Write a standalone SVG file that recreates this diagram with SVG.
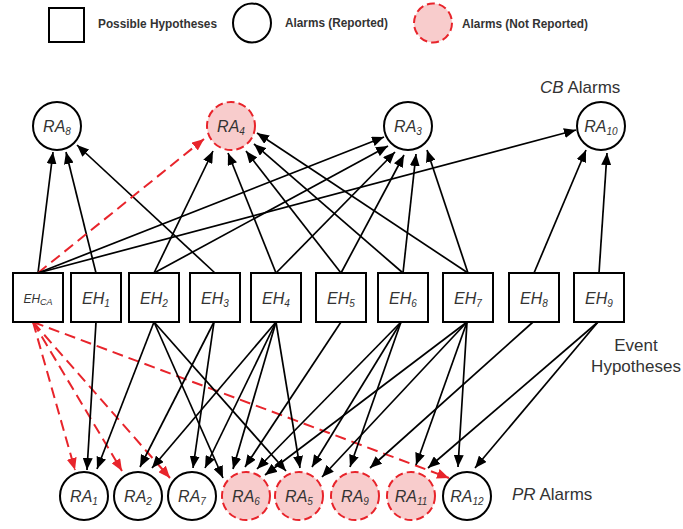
<svg xmlns="http://www.w3.org/2000/svg" width="683" height="529" viewBox="0 0 683 529">
<style>
.box{fill:#fff;stroke:#000;stroke-width:2}
.rep{fill:#fff;stroke:#000;stroke-width:2}
.nrep{fill:#f8cccc;stroke:#e8242b;stroke-width:2;stroke-dasharray:8 4}
.lab{font-family:"Liberation Sans",Arial,sans-serif;font-style:italic;font-size:16px;fill:#333}
.sub{font-size:10px}
.t{font-family:"Liberation Sans",Arial,sans-serif;font-size:17px;fill:#333}
.leg{font-family:"Liberation Sans",Arial,sans-serif;font-size:12px;font-weight:bold;fill:#333}
.e{stroke:#000;stroke-width:1.7;fill:none;marker-end:url(#ab)}
.r{stroke:#e8242b;stroke-width:2;fill:none;stroke-dasharray:11 6;marker-end:url(#ar)}
</style>
<defs>
<marker id="ab" viewBox="0 0 12 10" refX="12" refY="5" markerWidth="12" markerHeight="10" orient="auto" markerUnits="userSpaceOnUse"><path d="M0,0 L12,5 L0,10 z" fill="#000"/></marker>
<marker id="ar" viewBox="0 0 12 10" refX="12" refY="5" markerWidth="12" markerHeight="10" orient="auto" markerUnits="userSpaceOnUse"><path d="M0,0 L12,5 L0,10 z" fill="#e8242b"/></marker>
</defs>

<g id="legend">
<rect x="49" y="8" width="35" height="34" class="box"/>
<text x="98" y="28" class="leg" textLength="119" lengthAdjust="spacingAndGlyphs">Possible Hypotheses</text>
<ellipse cx="252" cy="23" rx="19" ry="19.5" class="rep"/>
<text x="285" y="27" class="leg" textLength="103" lengthAdjust="spacingAndGlyphs">Alarms (Reported)</text>
<ellipse cx="433" cy="23" rx="19" ry="19.5" class="nrep"/>
<text x="462" y="28" class="leg" textLength="126" lengthAdjust="spacingAndGlyphs">Alarms (Not Reported)</text>
</g>

<g id="connectors">
<!-- top -->
<line x1="38" y1="273" x2="53" y2="152" class="e"/>
<line x1="96" y1="273" x2="66" y2="152" class="e"/>
<line x1="215" y1="273" x2="77" y2="145" class="e"/>
<line x1="38" y1="273" x2="204" y2="139" class="r"/>
<line x1="154" y1="273" x2="213" y2="151" class="e"/>
<line x1="276" y1="273" x2="228" y2="153" class="e"/>
<line x1="341" y1="273" x2="246" y2="151" class="e"/>
<line x1="403" y1="273" x2="254" y2="144" class="e"/>
<line x1="468" y1="273" x2="257" y2="133" class="e"/>
<line x1="38" y1="273" x2="384" y2="137" class="e"/>
<line x1="154" y1="273" x2="388" y2="146" class="e"/>
<line x1="276" y1="273" x2="395" y2="152" class="e"/>
<line x1="341" y1="273" x2="404" y2="155" class="e"/>
<line x1="403" y1="273" x2="416" y2="154" class="e"/>
<line x1="468" y1="273" x2="427" y2="150" class="e"/>
<line x1="38" y1="273" x2="576" y2="130" class="e"/>
<line x1="534" y1="273" x2="586" y2="150" class="e"/>
<line x1="599" y1="273" x2="607" y2="153" class="e"/>
<!-- bottom -->
<line x1="33" y1="322" x2="75" y2="470" class="r"/>
<line x1="33" y1="322" x2="122" y2="471" class="r"/>
<line x1="33" y1="322" x2="170" y2="478" class="r"/>
<line x1="33" y1="322" x2="449" y2="478" class="r"/>
<line x1="96" y1="322" x2="87" y2="470" class="e"/>
<line x1="154" y1="322" x2="97" y2="469" class="e"/>
<line x1="154" y1="322" x2="223" y2="478" class="e"/>
<line x1="154" y1="322" x2="286" y2="471" class="e"/>
<line x1="214" y1="322" x2="140" y2="467" class="e"/>
<line x1="214" y1="322" x2="193" y2="468" class="e"/>
<line x1="276" y1="322" x2="152" y2="468" class="e"/>
<line x1="276" y1="322" x2="205" y2="468" class="e"/>
<line x1="276" y1="322" x2="233" y2="469" class="e"/>
<line x1="276" y1="322" x2="300" y2="468" class="e"/>
<line x1="341" y1="322" x2="245" y2="467" class="e"/>
<line x1="401" y1="322" x2="257" y2="469" class="e"/>
<line x1="401" y1="322" x2="312" y2="467" class="e"/>
<line x1="401" y1="322" x2="350" y2="467" class="e"/>
<line x1="467" y1="322" x2="265" y2="475" class="e"/>
<line x1="467" y1="322" x2="322" y2="477" class="e"/>
<line x1="467" y1="322" x2="416" y2="465" class="e"/>
<line x1="467" y1="322" x2="458" y2="467" class="e"/>
<line x1="533" y1="322" x2="370" y2="468" class="e"/>
<line x1="598" y1="322" x2="428" y2="468" class="e"/>
<line x1="598" y1="322" x2="475" y2="468" class="e"/>
</g>

<g id="RA8"><circle cx="57" cy="126" r="24" class="rep"/><text x="57" y="132" class="lab" text-anchor="middle">RA<tspan class="sub" dy="3">8</tspan></text></g>
<g id="RA4"><circle cx="231" cy="126" r="24" class="nrep"/><text x="231" y="132" class="lab" text-anchor="middle">RA<tspan class="sub" dy="3">4</tspan></text></g>
<g id="RA3"><circle cx="408" cy="126" r="24" class="rep"/><text x="408" y="132" class="lab" text-anchor="middle">RA<tspan class="sub" dy="3">3</tspan></text></g>
<g id="RA10"><circle cx="601" cy="126" r="24" class="rep"/><text x="601" y="132" class="lab" text-anchor="middle">RA<tspan class="sub" dy="3">10</tspan></text></g>

<g id="EHCA"><rect x="13" y="273" width="50" height="49" class="box"/><text x="38" y="303" class="lab" style="font-size:12px" text-anchor="middle">EH<tspan style="font-size:9px" dy="2">CA</tspan></text></g>
<g id="EH1"><rect x="71" y="273" width="50" height="49" class="box"/><text x="96" y="304" class="lab" text-anchor="middle">EH<tspan class="sub" dy="3">1</tspan></text></g>
<g id="EH2"><rect x="129" y="273" width="50" height="49" class="box"/><text x="154" y="304" class="lab" text-anchor="middle">EH<tspan class="sub" dy="3">2</tspan></text></g>
<g id="EH3"><rect x="190" y="273" width="50" height="49" class="box"/><text x="215" y="304" class="lab" text-anchor="middle">EH<tspan class="sub" dy="3">3</tspan></text></g>
<g id="EH4"><rect x="251" y="273" width="50" height="49" class="box"/><text x="276" y="304" class="lab" text-anchor="middle">EH<tspan class="sub" dy="3">4</tspan></text></g>
<g id="EH5"><rect x="316" y="273" width="50" height="49" class="box"/><text x="341" y="304" class="lab" text-anchor="middle">EH<tspan class="sub" dy="3">5</tspan></text></g>
<g id="EH6"><rect x="378" y="273" width="50" height="49" class="box"/><text x="403" y="304" class="lab" text-anchor="middle">EH<tspan class="sub" dy="3">6</tspan></text></g>
<g id="EH7"><rect x="443" y="273" width="50" height="49" class="box"/><text x="468" y="304" class="lab" text-anchor="middle">EH<tspan class="sub" dy="3">7</tspan></text></g>
<g id="EH8"><rect x="509" y="273" width="50" height="49" class="box"/><text x="534" y="304" class="lab" text-anchor="middle">EH<tspan class="sub" dy="3">8</tspan></text></g>
<g id="EH9"><rect x="574" y="273" width="50" height="49" class="box"/><text x="599" y="304" class="lab" text-anchor="middle">EH<tspan class="sub" dy="3">9</tspan></text></g>

<g id="RA1"><circle cx="84" cy="496" r="24" class="rep"/><text x="84" y="502" class="lab" text-anchor="middle">RA<tspan class="sub" dy="3">1</tspan></text></g>
<g id="RA2"><circle cx="138" cy="496" r="24" class="rep"/><text x="138" y="502" class="lab" text-anchor="middle">RA<tspan class="sub" dy="3">2</tspan></text></g>
<g id="RA7"><circle cx="192" cy="496" r="24" class="rep"/><text x="192" y="502" class="lab" text-anchor="middle">RA<tspan class="sub" dy="3">7</tspan></text></g>
<g id="RA6"><circle cx="246" cy="496" r="24" class="nrep"/><text x="246" y="502" class="lab" text-anchor="middle">RA<tspan class="sub" dy="3">6</tspan></text></g>
<g id="RA5"><circle cx="299" cy="496" r="24" class="nrep"/><text x="299" y="502" class="lab" text-anchor="middle">RA<tspan class="sub" dy="3">5</tspan></text></g>
<g id="RA9"><circle cx="355" cy="496" r="24" class="nrep"/><text x="355" y="502" class="lab" text-anchor="middle">RA<tspan class="sub" dy="3">9</tspan></text></g>
<g id="RA11"><circle cx="411" cy="496" r="24" class="nrep"/><text x="411" y="502" class="lab" text-anchor="middle">RA<tspan class="sub" dy="3">11</tspan></text></g>
<g id="RA12"><circle cx="467" cy="496" r="24" class="rep"/><text x="467" y="502" class="lab" text-anchor="middle">RA<tspan class="sub" dy="3">12</tspan></text></g>

<g id="labels">
<text x="540" y="93" class="t"><tspan font-style="italic">CB</tspan> Alarms</text>
<text x="636" y="351" class="t" text-anchor="middle">Event</text>
<text x="636" y="372" class="t" text-anchor="middle">Hypotheses</text>
<text x="512" y="500" class="t"><tspan font-style="italic">PR</tspan> Alarms</text>
</g>
</svg>
